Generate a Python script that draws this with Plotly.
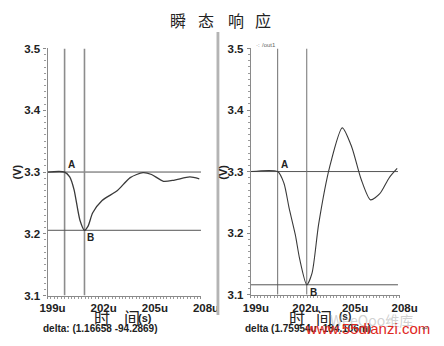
import plotly.graph_objects as go

# ---- data -------------------------------------------------------------
# left window: output voltage vs. time (us)
t_left = [199.0, 200.0, 200.3, 200.55, 200.9, 201.16658, 201.37, 201.65, 202.2,
          203.1, 203.85, 204.6, 205.1, 205.8, 206.45, 207.35, 207.9]
v_left = [3.300, 3.300, 3.292, 3.272, 3.222, 3.2057, 3.212, 3.234, 3.254,
          3.270, 3.291, 3.299, 3.296, 3.285, 3.287, 3.292, 3.289]

# right window: output voltage vs. time (us)
t_right = [199.0, 200.62, 201.0, 201.31, 201.69, 201.95, 202.37954, 202.7, 203.1,
           203.77, 204.53, 205.1, 205.67, 206.24, 206.8, 207.37, 207.85]
v_right = [3.300, 3.300, 3.281, 3.241, 3.197, 3.158, 3.116, 3.135, 3.2145,
           3.308, 3.371, 3.340, 3.2875, 3.254, 3.264, 3.290, 3.305]

# cursor A / B positions (time in us, voltage in V)
cur_left = {"A": (200.0, 3.300), "B": (201.16658, 3.2057131)}
cur_right = {"A": (200.62, 3.300), "B": (202.37954, 3.116)}

x_ticks = [199, 202, 205, 208]
x_tick_text = ["199u", "202u", "205u", "208u"]
y_ticks = [3.1, 3.2, 3.3, 3.4, 3.5]
y_tick_text = ["3.1", "3.2", "3.3", "3.4", "3.5"]

title_text = "瞬 态 响 应"
delta_left = "delta: (1.16658 -94.2869)"
delta_right = "delta (1.75954u -184.106m)"

W, H = 444, 346
BOLD = "Liberation Sans"
CJK = "Noto Sans CJK SC"


def px(x):
    return x / W


def py(y):
    return 1 - y / H


fig = go.Figure()

# ---- curves -----------------------------------------------------------
fig.add_trace(go.Scatter(x=t_left, y=v_left, mode="lines", xaxis="x", yaxis="y",
                         line=dict(color="#3a3a3a", width=1.3, shape="spline", smoothing=0.7),
                         showlegend=False, hoverinfo="skip"))
fig.add_trace(go.Scatter(x=t_right, y=v_right, mode="lines", xaxis="x2", yaxis="y2",
                         line=dict(color="#3a3a3a", width=1.1, shape="spline", smoothing=0.7),
                         showlegend=False, hoverinfo="skip"))

# ---- axes -------------------------------------------------------------
def xaxis_cfg(domain, anchor):
    return dict(domain=domain, anchor=anchor, range=[199, 208], showgrid=False, zeroline=False,
                showline=True, linecolor="#8a8a8a", linewidth=1.2,
                tickvals=x_ticks, ticktext=x_tick_text, ticks="outside", ticklen=2,
                tickcolor="#8a8a8a", ticklabelshift=5, ticklabelstandoff=0,
                tickfont=dict(family=BOLD, size=11.5, color="#222", weight="bold"),
                minor=dict(dtick=0.2, ticks="outside", ticklen=2, tickcolor="#9a9a9a"))


def yaxis_cfg(domain, anchor):
    return dict(domain=domain, anchor=anchor, range=[3.1, 3.5], showgrid=False, zeroline=False,
                showline=True, linecolor="#8a8a8a", linewidth=1.2,
                tickvals=y_ticks, ticktext=y_tick_text, ticks="outside", ticklen=3,
                tickcolor="#8a8a8a", ticklabelstandoff=1,
                tickfont=dict(family=BOLD, size=11.5, color="#222", weight="bold"),
                minor=dict(dtick=0.01, ticks="outside", ticklen=2, tickcolor="#9a9a9a"))


fig.update_layout(
    xaxis=xaxis_cfg([px(42), px(205)], "y"),
    yaxis=yaxis_cfg([py(300), py(44)], "x"),
    xaxis2=xaxis_cfg([px(258), px(416)], "y2"),
    yaxis2=yaxis_cfg([py(299), py(44)], "x2"),
)

# ---- cursors ----------------------------------------------------------
shapes = []
for (xr, yr, cur, vcol, vw) in [("x", "y", cur_left, "#8c8c8c", 1.6),
                                ("x2", "y2", cur_right, "#707070", 1.0)]:
    for key in ("A", "B"):
        tx, vy = cur[key]
        shapes.append(dict(type="line", xref=xr, yref=yr, x0=tx, x1=tx, y0=3.1, y1=3.5,
                           line=dict(color=vcol, width=vw), layer="below"))
        shapes.append(dict(type="line", xref=xr, yref=yr, x0=199, x1=208 if xr == "x" else 207.9,
                           y0=vy, y1=vy, line=dict(color="#555", width=1.0), layer="below"))

# grey window separator
shapes.append(dict(type="rect", xref="paper", yref="paper", x0=px(221.5), x1=px(224.5),
                   y0=py(320), y1=py(27), fillcolor="#b4b4b4", line=dict(width=0)))
fig.update_layout(shapes=shapes)

# ---- text -------------------------------------------------------------
ann = []


def text(x, y, s, size, family=BOLD, weight="bold", color="#222", xanchor="center", angle=0):
    ann.append(dict(xref="paper", yref="paper", x=px(x), y=py(y), text=s, showarrow=False,
                    xanchor=xanchor, yanchor="middle", textangle=angle,
                    font=dict(family=family, size=size, color=color, weight=weight)))


# title
for ch, cx in zip(title_text.split(" "), [181, 210, 242, 271]):
    text(cx, 14, ch, 16, family=CJK, weight="normal", color="#222")

# cursor labels
for xr, yr, cur in [("x", "y", cur_left), ("x2", "y2", cur_right)]:
    ax, ay = cur["A"]
    bx, by = cur["B"]
    ann.append(dict(xref=xr, yref=yr, x=ax, y=ay, text="A", showarrow=False, xanchor="left",
                    yanchor="bottom", xshift=1, yshift=0,
                    font=dict(family=BOLD, size=10, color="#222", weight="bold")))
    ann.append(dict(xref=xr, yref=yr, x=bx, y=by, text="B", showarrow=False, xanchor="left",
                    yanchor="top", xshift=1, yshift=0,
                    font=dict(family=BOLD, size=10, color="#222", weight="bold")))

# y-axis units
text(10, 172, "(V)", 11, angle=-90)
text(228, 172, "(V)", 11, angle=-90)

# x-axis titles
text(100, 322, "时", 16, family=CJK, weight="normal")
text(132, 322, "间", 16, family=CJK, weight="normal")
text(146, 323, "(s)", 11)
text(307, 322, "时", 16, family=CJK, weight="normal")
text(336, 322, "间", 16, family=CJK, weight="normal")
text(358, 322, "(s)", 10)

# cursor deltas
text(35, 334, delta_left, 10, xanchor="left")
text(250, 334, delta_right, 10, xanchor="left")

# trace name tag
text(261, 40, "·:", 6, family=BOLD, weight="normal", color="#666", xanchor="left")
text(268, 40, "/out1", 6, family=BOLD, weight="normal", color="#666", xanchor="left")

# overlaid site marks
text(340, 325, "WeeQoo维库", 14, family=CJK, weight="normal", color="rgba(170,170,170,0.55)",
     xanchor="left")
text(313, 334, "www.55dianzi.com", 15, family=BOLD, weight="normal", color="#e0281e",
     xanchor="left")
text(438, 334, "↵", 8, family=BOLD, weight="normal", color="#666", xanchor="left")

fig.update_layout(annotations=ann, width=W, height=H,
                  margin=dict(l=0, r=0, t=0, b=0),
                  paper_bgcolor="white", plot_bgcolor="white")

fig.write_html("out.html")
